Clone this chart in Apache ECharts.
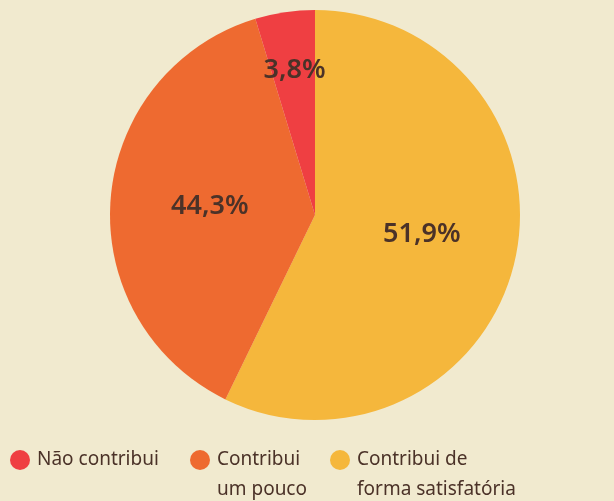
<!DOCTYPE html>
<html>
	<head>
		<meta charset="utf-8">
		<title>Contribui</title>
		<style>
			html,body{margin:0;padding:0;background:#f1eacf;}
			#chart{width:614px;height:501px;}
		</style>
	</head>
	<body>
		<div id="chart"></div>
		<script src="https://cdn.jsdelivr.net/npm/echarts@6/dist/echarts.min.js"></script>
		<script type="text/javascript">
			// dados
			var categorias = ['Contribui de forma satisfatória','Contribui um pouco','Não contribui'];
			// percentuais impressos nos rótulos
			var percentuais = [51.9,44.3,3.8];
			// tamanho das fatias como aparecem desenhadas na figura (%)
			var fatias = [57.2,38.1,4.7];
			var cores = ['#f5b73c','#ee6a30','#ef3f42'];
			// textos da legenda (ordem da figura)
			var legendaNomes = ['Não contribui','Contribui um pouco','Contribui de forma satisfatória'];
			var legendaTextos = ['\nNão contribui\n','\nContribui\num pouco','\nContribui de\nforma satisfatória'];
			var legendaLeft = [10,190,330];

			var fonte = '"Noto Sans", "DejaVu Sans", sans-serif';
			var myChart = echarts.init(document.getElementById('chart'));

			var pieData = [];
			for(var i = 0;i < categorias.length;i++){
				pieData.push({name:categorias[i],value:fatias[i],pct:percentuais[i],itemStyle:{color:cores[i]}});
			}

			var legends = [];
			for(var j = 0;j < legendaNomes.length;j++){
				(function(j){
					legends.push({
						data:[legendaNomes[j]],
						left:legendaLeft[j],
						top:415,
						padding:0,
						icon:'circle',
						itemWidth:20,
						itemHeight:20,
						selectedMode:false,
						formatter:function(){ return legendaTextos[j]; },
						textStyle:{
							fontFamily:fonte,
							fontSize:19,
							color:'#4b3228',
							lineHeight:30,
							padding:[0,0,0,2]
						}
					});
				})(j);
			}

			var option = {
				backgroundColor:'#f1eacf',
				animation:false,
				legend:legends,
				series:[{
					type:'pie',
					center:[315,215],
					radius:205,
					startAngle:90,
					clockwise:true,
					data:pieData,
					label:{
						show:true,
						position:'inside',
						fontFamily:fonte,
						fontSize:27,
						fontWeight:600,
						color:'#4b3228',
						formatter:function(p){
							return p.data.pct.toFixed(1).replace('.',',') + '%';
						}
					},
					labelLine:{show:false},
					labelLayout:function(p){
						// rótulo da fatia pequena fica mais perto da borda
						if(p.dataIndex === 2){
							return {dx:-5,dy:-40};
						}
						if(p.dataIndex === 0){
							return {dx:4,dy:-4};
						}
					},
					emphasis:{disabled:true}
				}]
			};
			myChart.setOption(option);
		</script>
	</body>
</html>
